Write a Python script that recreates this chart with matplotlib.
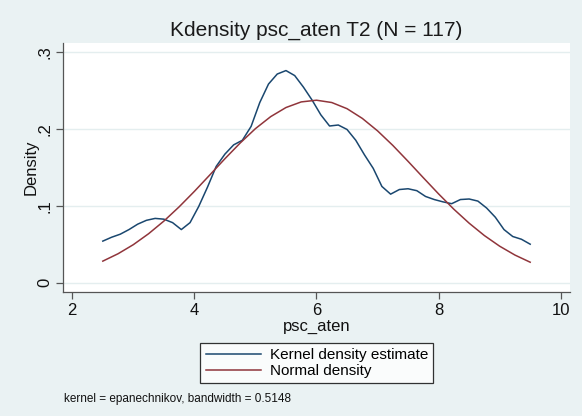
import matplotlib
matplotlib.use("Agg")
import matplotlib.pyplot as plt

# kernel density estimate (50 points)
kd_x = [2.5, 2.643, 2.786, 2.929, 3.071, 3.214, 3.357, 3.5, 3.643, 3.786,
        3.929, 4.071, 4.214, 4.357, 4.5, 4.643, 4.786, 4.929, 5.071, 5.214,
        5.357, 5.5, 5.643, 5.786, 5.929, 6.071, 6.214, 6.357, 6.5, 6.643,
        6.786, 6.929, 7.071, 7.214, 7.357, 7.5, 7.643, 7.786, 7.929, 8.071,
        8.214, 8.357, 8.5, 8.643, 8.786, 8.929, 9.071, 9.214, 9.357, 9.5]
kd_y = [0.054, 0.059, 0.063, 0.069, 0.076, 0.081, 0.0835, 0.0825, 0.078, 0.069,
        0.078, 0.099, 0.124, 0.151, 0.167, 0.179, 0.185, 0.203, 0.234, 0.258,
        0.271, 0.2755, 0.269, 0.254, 0.237, 0.218, 0.2035, 0.2048, 0.199, 0.185,
        0.166, 0.1485, 0.125, 0.115, 0.121, 0.122, 0.1195, 0.112, 0.108, 0.105,
        0.1026, 0.108, 0.1087, 0.106, 0.097, 0.085, 0.069, 0.060, 0.0564, 0.050]

# normal density curve, read every 0.25
nd_x = [2.5, 2.75, 3.0, 3.25, 3.5, 3.75, 4.0, 4.25, 4.5, 4.75, 5.0, 5.25, 5.5,
        5.75, 6.0, 6.25, 6.5, 6.75, 7.0, 7.25, 7.5, 7.75, 8.0, 8.25, 8.5, 8.75,
        9.0, 9.25, 9.5]
nd_y = [0.0280, 0.0376, 0.0494, 0.0636, 0.0800, 0.0985, 0.1186, 0.1397, 0.1610,
        0.1814, 0.2001, 0.2157, 0.2275, 0.2348, 0.2370, 0.2340, 0.2260, 0.2134,
        0.1972, 0.1783, 0.1576, 0.1363, 0.1153, 0.0954, 0.0773, 0.0612, 0.0474,
        0.0359, 0.0266]

xticks = [2, 4, 6, 8, 10]
yticks = [0, 0.1, 0.2, 0.3]
ylabels = ["0", ".1", ".2", ".3"]

bg = "#EAF2F3"
plt.rcParams["font.family"] = ["Liberation Sans", "DejaVu Sans"]

fig = plt.figure(figsize=(5.82, 4.16), dpi=100)
fig.patch.set_facecolor(bg)
ax = fig.add_axes([63.3/582, 1-291.7/416, (570-63.3)/582, (291.7-42.7)/416])
ax.set_facecolor("white")

for y in yticks:
    ax.axhline(y, color="#E4EEEF", linewidth=1.0, zorder=0)

ax.plot(kd_x, kd_y, color="#1A476F", linewidth=1.1, label="Kernel density estimate")
ax.plot(nd_x, nd_y, color="#90353B", linewidth=1.1, label="Normal density")

ax.set_xlim(1.853, 10.152)
ax.set_ylim(-0.0117, 0.3117)
ax.set_xticks(xticks)
ax.set_xticklabels([str(v) for v in xticks])
ax.set_yticks(yticks)
ax.set_yticklabels(ylabels, rotation=90, va="center")

for s in ["top", "right"]:
    ax.spines[s].set_visible(False)
for s in ["left", "bottom"]:
    ax.spines[s].set_color("#555555")
    ax.spines[s].set_linewidth(0.9)
ax.tick_params(direction="out", length=5, width=0.9, color="#555555",
               labelsize=12, labelcolor="#111111", pad=3)

ax.set_xlabel("psc_aten", fontsize=12, color="#111111", labelpad=1)
ax.set_ylabel("Density", fontsize=12, color="#111111", labelpad=-1)
fig.text(316/582, 1-30/416, "Kdensity psc_aten T2 (N = 117)", ha="center",
         va="center", fontsize=15, color="#1a1a1a")

leg = ax.legend(loc="center", bbox_to_anchor=(316.8/582, 1-363/416), bbox_transform=fig.transFigure,
                frameon=True, fancybox=False, fontsize=11, handlelength=3.6,
                borderpad=0.35, labelspacing=0.15, handletextpad=0.6)
leg.get_frame().set_edgecolor("black")
leg.get_frame().set_linewidth(0.9)
leg.get_frame().set_facecolor("white")

fig.text(64/582, 1-399/416, "kernel = epanechnikov, bandwidth = 0.5148",
         ha="left", va="center", fontsize=8.5, color="#111111")

fig.savefig("out.png", dpi=100, facecolor=bg)
